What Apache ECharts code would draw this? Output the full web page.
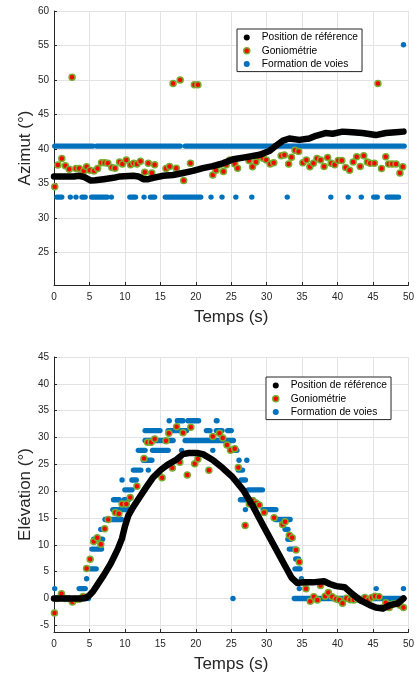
<!DOCTYPE html>
<html>
<head>
<meta charset="utf-8">
<script src="https://cdn.jsdelivr.net/npm/echarts@6/dist/echarts.min.js"></script>
<style>
  html, body { margin: 0; padding: 0; background: #fff; }
  #chart { width: 417px; height: 679px; }
</style>
</head>
<body>
<div id="chart"></div>
<script>
// ---- data ----
var legendNames = ['Position de référence', 'Goniométrie', 'Formation de voies'];
var xTitle = 'Temps (s)';

// azimut : reference track [t, deg]
var azRef = [[0,36.0],[1,36.0],[2,36.0],[2.8,36.0],[3.5,36.1],[4.3,35.9],[5.2,35.4],[5.8,35.45],[7,35.6],[8.4,35.8],
  [9.3,36.0],[11.2,36.1],[11.9,36.0],[12.6,35.6],[13.3,35.6],[14,35.8],[15.4,36.1],[16.8,36.2],[18.2,36.5],[19.6,36.8],
  [21,37.2],[22.4,37.5],[23.8,37.9],[25.3,38.5],[27.1,38.8],[29.0,39.15],[30.4,39.7],[31.3,40.45],[32.3,41.2],[33.2,41.5],
  [34.6,41.3],[36.0,41.5],[36.95,41.9],[38.3,42.3],[39.3,42.2],[40.7,42.5],[42.1,42.4],[43.5,42.3],[45.4,42.0],[46.8,42.3],
  [48.2,42.4],[49.3,42.5]];

// azimut : goniometrie [t, deg]
var azGonio = [[0.1,34.5],[0.55,37.65],[1.1,38.6],[1.6,37.55],[2.15,37.05],[2.55,50.4],[3.1,37.15],[3.55,37.15],[4.2,36.8],[4.6,37.4],
  [5.05,36.9],[5.65,36.8],[6.15,37.15],[6.7,38.0],[7.15,38.0],[7.6,37.9],[8.15,37.3],[8.6,37.2],[9.25,38.1],[9.65,37.8],
  [10.2,38.4],[10.8,37.7],[11.25,37.9],[11.7,37.8],[12.2,38.2],[12.8,36.6],[13.3,37.9],[13.8,36.5],[14.2,37.7],[15.8,37.15],
  [16.3,37.45],[16.8,49.5],[17.25,37.2],[17.8,50.0],[18.3,35.4],[19.25,37.9],[19.8,49.3],[20.3,49.3],[22.4,36.2],[22.85,36.9],
  [23.4,37.7],[23.9,36.7],[24.3,37.7],[24.8,38.4],[25.5,37.8],[25.9,37.2],[27.5,38.3],[28.0,37.4],[28.5,38.1],[28.9,38.85],
  [29.5,38.65],[29.95,38.4],[30.5,37.8],[31.0,38.0],[32.05,39.0],[32.5,39.1],[33.1,37.8],[33.5,38.8],[34.0,39.8],[34.5,39.6],
  [35.1,38.0],[35.6,38.4],[36.1,37.4],[36.6,37.9],[37.1,38.6],[37.6,38.4],[38.1,37.45],[38.6,38.75],[39.1,37.9],[39.6,37.7],
  [40.1,38.3],[40.6,38.3],[41.15,37.3],[41.7,36.9],[42.2,38.1],[42.7,38.85],[43.2,37.45],[43.7,39.0],[44.2,38.1],[44.6,37.9],
  [45.2,37.9],[45.7,49.5],[46.2,37.15],[46.8,38.85],[47.2,37.8],[47.7,37.8],[48.25,37.8],[48.8,36.5],[49.2,37.4]];

// azimut : formation de voies, runs of equal readings [tStart, tEnd, deg]
var azVoies = [[0.1,5.5,40.4],[6.0,17.8,40.4],[18.5,49.4,40.4],
  [0.4,1.1,33.0],[2.3,2.3,33.0],[3.1,3.1,33.0],[3.95,4.4,33.0],[5.3,7.5,33.0],[8.1,8.1,33.0],[10.7,11.5,33.0],
  [12.7,12.7,33.0],[13.6,14.2,33.0],[15.7,20.7,33.0],[22.15,22.15,33.0],[23.7,23.7,33.0],[25.65,25.65,33.0],
  [27.9,27.9,33.0],[32.9,32.9,33.0],[39.05,39.05,33.0],[41.5,41.5,33.0],[43.35,43.35,33.0],[45.1,45.6,33.0],
  [47.0,48.6,33.0],[49.3,49.3,55.1]];

// elevation : reference track [t, deg]
var elRef = [[0,0],[1,0],[2,0],[3,0],[4,0],[4.5,0.1],[5,0.6],[5.5,1.3],[6,2.3],[7,4.3],[8,6.5],[9,9.2],[9.6,11.2],[10,13.4],
  [10.5,15.5],[11.2,17.1],[12.1,18.9],[13,20.7],[14,22.6],[15,23.9],[16,24.9],[17.3,25.9],[18.2,26.9],[19,27.1],[20.2,27.1],
  [21,26.9],[22.4,25.8],[23.8,24.3],[25.2,22.6],[26.7,20.2],[28.1,17.1],[29.5,13.6],[30.9,10.2],[32.3,6.8],[33.5,3.9],
  [34.3,2.9],[35,3.0],[36.5,3.0],[38.1,3.2],[38.9,2.7],[39.8,2.3],[41,2.1],[42.1,0.8],[43.3,-0.4],[44.5,-1.2],[45.4,-1.7],
  [46.4,-1.9],[47.3,-1.3],[48.5,-0.9],[49.3,0]];

// elevation : goniometrie [t, deg]
var elGonio = [[0.07,-2.7],[0.5,0],[1.05,0.9],[1.6,0],[2.15,-0.05],[2.6,-0.65],[3.05,-0.15],[3.55,-0.15],[4.1,0.35],[4.6,5.6],
  [5.1,7.3],[5.6,10.6],[6.1,11.3],[6.6,10.1],[7.15,13.0],[7.65,14.7],[8.65,16.0],[9.15,15.8],[9.6,17.6],[10.2,17.6],
  [10.75,18.8],[11.7,20.9],[12.7,26.1],[13.2,29.1],[13.7,29.1],[14.2,29.7],[14.8,23.2],[15.25,22.5],[15.8,29.4],[16.2,30.8],
  [16.7,24.3],[17.3,32.0],[17.75,25.4],[18.2,30.9],[18.8,23.0],[19.3,31.9],[19.85,25.1],[20.3,26.0],[21.85,23.9],[22.4,30.2],
  [23.35,30.8],[23.8,29.9],[24.4,28.6],[24.9,27.6],[25.5,27.9],[26.0,24.4],[26.96,13.6],[27.55,17.6],[28.05,18.2],[28.5,17.8],
  [28.95,17.4],[29.65,16.0],[31.05,15.05],[32.25,13.8],[32.6,14.3],[33.2,11.8],[33.6,11.3],[34.15,9.05],[34.6,6.8],[35.1,3.0],
  [35.55,1.8],[36.15,-0.5],[36.65,0.3],[37.15,-0.3],[37.6,2.4],[38.25,0.4],[38.7,1.1],[39.25,0.3],[39.8,-0.1],[40.25,-0.3],
  [40.7,-0.9],[41.25,0.05],[41.8,-0.25],[42.3,-0.3],[42.8,-0.1],[43.3,-0.3],[43.85,0.2],[44.35,-0.3],[44.85,0.2],[45.3,0.4],
  [45.85,0.3],[46.35,-1.7],[46.8,-0.8],[47.3,-1.7],[47.75,-1.05],[48.3,-0.95],[48.8,-1.25],[49.3,-1.7]];

// elevation : formation de voies runs [tStart, tEnd, deg]
var elVoies = [[0.1,0.1,1.84],[3.55,4.4,1.84],[4.6,4.6,3.68],[4.85,4.85,0],[5.15,5.95,5.52],[5.35,6.7,9.2],[5.6,6.85,11.04],
  [6.6,7.1,12.88],[7.2,9.55,14.72],[8.3,10.8,16.56],[8.4,9.2,18.4],[9.9,10.5,18.4],[9.6,9.6,22.08],[10.0,11.0,20.24],
  [11.0,11.6,22.08],[11.2,12.25,23.92],[11.9,12.85,27.6],[12.6,13.8,25.76],[12.85,14.95,31.28],[12.85,16.8,29.44],
  [13.9,16.1,27.6],[13.3,13.3,23.92],[16.1,18.7,31.28],[16.25,16.25,33.12],[17.4,18.2,33.12],[18.9,20.4,33.12],
  [22.9,23.0,33.12],[18.0,18.0,27.6],[18.5,25.3,29.44],[21.5,22.0,31.28],[22.9,23.7,31.28],[24.5,25.0,31.28],
  [22.4,22.4,27.6],[25.25,25.25,0],[25.3,25.8,27.6],[26.1,26.1,25.76],[27.2,27.2,25.76],[26.0,26.6,23.92],
  [26.4,27.0,22.08],[27.4,29.4,20.24],[26.3,28.1,18.4],[27.0,27.0,16.56],[29.5,31.3,16.56],[31.2,33.3,14.72],
  [32.6,33.0,12.88],[33.0,33.4,11.04],[33.2,34.1,9.2],[34.1,34.5,7.36],[34.0,34.7,5.52],[34.6,34.6,1.84],
  [34.9,34.9,3.68],[33.9,49.3,0],[45.45,45.45,1.84],[49.3,49.3,1.84]];

// ---- styles ----
var FONT = 'Liberation Sans';
var INK = '#262626';
var BLUE = '#0072bd';
var RED = '#ff0000';
var GREEN = '#77ac30';

function xAxisFor(idx) {
  return {
    type: 'value', gridIndex: idx, min: 0, max: 50, interval: 5,
    name: xTitle, nameLocation: 'middle', nameGap: 24, nameMoveOverlap: false,
    nameTextStyle: {fontFamily: FONT, fontSize: 17, color: INK},
    axisLine: {show: true, onZero: false, lineStyle: {color: INK, width: 1}},
    axisTick: {show: true, inside: true, length: 3, lineStyle: {color: INK}},
    axisLabel: {fontFamily: FONT, fontSize: 10, color: INK, margin: 7},
    splitLine: {show: true, lineStyle: {color: '#e3e3e3', width: 1}}
  };
}
function yAxisFor(idx, name, min, max, split) {
  return {
    type: 'value', gridIndex: idx, min: min, max: max, splitNumber: split,
    name: name, nameLocation: 'middle', nameGap: 20, nameMoveOverlap: false,
    nameTextStyle: {fontFamily: FONT, fontSize: 17, color: INK},
    axisLine: {show: true, onZero: false, lineStyle: {color: INK, width: 1}},
    axisTick: {show: true, inside: true, length: 3, lineStyle: {color: INK}},
    axisLabel: {fontFamily: FONT, fontSize: 10, color: INK, margin: 5,
      formatter: function (v) { return v % 5 === 0 ? String(v) : ''; }},
    splitLine: {show: true, lineStyle: {color: '#e3e3e3', width: 1}}
  };
}

function runItem(params, api) {
  var a = api.coord([api.value(0), api.value(2)]);
  var b = api.coord([api.value(1), api.value(2)]);
  return {
    type: 'line',
    shape: {x1: a[0], y1: a[1], x2: b[0] + 0.01, y2: b[1]},
    style: {stroke: BLUE, lineWidth: 5.4, lineCap: 'round'}
  };
}

function legendFor(left, top) {
  return {
    orient: 'vertical', left: left, top: top,
    padding: [2.5, 4, 1.5, 6], itemGap: 1.3, itemWidth: 20, itemHeight: 6,
    backgroundColor: '#fff', borderColor: INK, borderWidth: 1,
    textStyle: {fontFamily: FONT, fontSize: 10.2, color: '#000', lineHeight: 12},
    selectedMode: false,
    data: [
      {name: legendNames[0], icon: 'circle', itemStyle: {color: '#000'}},
      {name: legendNames[1], icon: 'circle', itemStyle: {color: RED, borderColor: GREEN, borderWidth: 1.5}},
      {name: legendNames[2], icon: 'circle', itemStyle: {color: BLUE}}
    ]
  };
}

function seriesFor(idx, voies, ref, gonio) {
  return [
    {name: legendNames[2], type: 'custom', xAxisIndex: idx, yAxisIndex: idx,
     renderItem: runItem, encode: {x: [0, 1], y: 2}, data: voies, itemStyle: {color: BLUE}},
    {name: legendNames[0], type: 'line', xAxisIndex: idx, yAxisIndex: idx, data: ref,
     symbol: 'none', itemStyle: {color: '#000'},
     lineStyle: {color: '#000', width: 6.5, cap: 'round', join: 'round'}},
    {name: legendNames[1], type: 'scatter', xAxisIndex: idx, yAxisIndex: idx, data: gonio,
     symbol: 'circle', symbolSize: 6,
     itemStyle: {color: RED, borderColor: GREEN, borderWidth: 1.5, opacity: 1}}
  ];
}

var chart = echarts.init(document.getElementById('chart'));
chart.setOption({
  animation: false,
  backgroundColor: '#fff',
  grid: [
    {left: 54, right: 6, top: 11, height: 274},
    {left: 54, right: 6, top: 357, height: 275}
  ],
  xAxis: [xAxisFor(0), xAxisFor(1)],
  yAxis: [yAxisFor(0, 'Azimut (°)', 20.25, 60, 8), yAxisFor(1, 'Elévation (°)', -6.25, 45, 10)],
  legend: [legendFor(237, 29), legendFor(266, 377)],
  series: seriesFor(0, azVoies, azRef, azGonio).concat(seriesFor(1, elVoies, elRef, elGonio))
});
</script>
</body>
</html>
